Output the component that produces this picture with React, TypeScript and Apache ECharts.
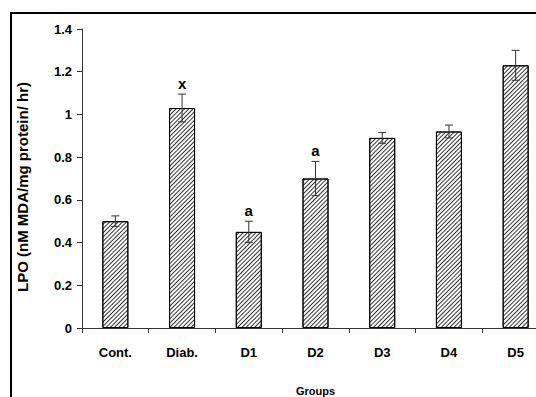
import React, { useEffect, useRef } from "react";
import * as echarts from "echarts";

const categories = ["Cont.", "Diab.", "D1", "D2", "D3", "D4", "D5"];
const values = [0.5, 1.03, 0.45, 0.7, 0.89, 0.92, 1.23];
const errors = [0.025, 0.065, 0.05, 0.08, 0.025, 0.03, 0.07];
const marks = ["", "x", "a", "a", "", "", ""];
const yTicks = { min: 0, max: 1.4, interval: 0.2 };
const yTitle = "LPO (nM MDA/mg protein/ hr)";
const xTitle = "Groups";

const FONT = "'Liberation Sans', Arial, sans-serif";

export default function App() {
  const ref = useRef<HTMLDivElement>(null);
  useEffect(() => {
    document.body.style.margin = "0";
    const chart = echarts.init(ref.current!, null, { renderer: "svg" });
    const errData = categories.map((_, i) => [i, values[i] - errors[i], values[i] + errors[i]]);
    const markData = categories.map((_, i) => [i, values[i] + errors[i], marks[i]]);
    chart.setOption({
      animation: false,
      backgroundColor: "#fff",
      grid: {
        left: 82,
        top: 29,
        width: 467,
        bottom: 69,
        containLabel: false,
        outerBoundsMode: "none",
      },
      xAxis: {
        type: "category",
        data: categories,
        boundaryGap: true,
        name: xTitle,
        nameLocation: "middle",
        nameGap: 57,
        nameTextStyle: { fontFamily: FONT, fontWeight: "bold", fontSize: 11, color: "#000" },
        axisLine: { lineStyle: { color: "#333", width: 1 } },
        axisTick: { show: true, length: 5, alignWithLabel: false, lineStyle: { color: "#333" } },
        axisLabel: { margin: 18, fontFamily: FONT, fontWeight: "bold", fontSize: 13, color: "#000" },
        splitLine: { show: false },
      },
      yAxis: {
        type: "value",
        min: yTicks.min,
        max: yTicks.max,
        interval: yTicks.interval,
        axisLine: { show: true, lineStyle: { color: "#333", width: 1 } },
        axisTick: { show: true, length: 5, lineStyle: { color: "#333" } },
        axisLabel: { margin: 10, fontFamily: FONT, fontWeight: "bold", fontSize: 13, color: "#000" },
        splitLine: { show: false },
      },
      graphic: [
        {
          type: "rect",
          silent: true,
          shape: { x: 11, y: 13, width: 700, height: 500 },
          style: { fill: "none", stroke: "#000", lineWidth: 2 },
        },
        {
          type: "text",
          silent: true,
          x: 22,
          y: 187,
          rotation: Math.PI / 2,
          style: {
            text: yTitle,
            align: "center",
            verticalAlign: "middle",
            font: `bold 15px ${FONT}`,
            fill: "#000",
          },
        },
      ],
      series: [
        {
          type: "bar",
          data: values,
          barWidth: 26,
          itemStyle: {
            color: "#fff",
            borderColor: "#000",
            borderWidth: 1,
            decal: {
              symbol: "rect",
              symbolSize: 1,
              color: "#333",
              dashArrayX: [1, 0],
              dashArrayY: [1, 2],
              rotation: -Math.PI / 4,
            },
          },
          z: 2,
        },
        {
          type: "custom",
          data: errData,
          z: 3,
          renderItem: (params: any, api: any) => {
            const i = api.value(0);
            const lo = api.coord([i, api.value(1)]);
            const hi = api.coord([i, api.value(2)]);
            const cap = 4;
            const style = { stroke: "#333", lineWidth: 1 };
            return {
              type: "group",
              children: [
                { type: "line", shape: { x1: lo[0], y1: lo[1], x2: hi[0], y2: hi[1] }, style },
                { type: "line", shape: { x1: hi[0] - cap, y1: hi[1], x2: hi[0] + cap, y2: hi[1] }, style },
                { type: "line", shape: { x1: lo[0] - cap, y1: lo[1], x2: lo[0] + cap, y2: lo[1] }, style },
              ],
            };
          },
        },
        {
          type: "custom",
          data: markData,
          z: 4,
          renderItem: (params: any, api: any) => {
            const i = api.value(0);
            const p = api.coord([i, api.value(1)]);
            const t = marks[params.dataIndex];
            return {
              type: "text",
              x: p[0],
              y: p[1] - 11,
              style: {
                text: t,
                align: "center",
                verticalAlign: "middle",
                font: `bold 15px ${FONT}`,
                fill: "#000",
              },
            };
          },
        },
      ],
    });
    return () => chart.dispose();
  }, []);
  return <div ref={ref} style={{ width: 536, height: 397 }} />;
}
